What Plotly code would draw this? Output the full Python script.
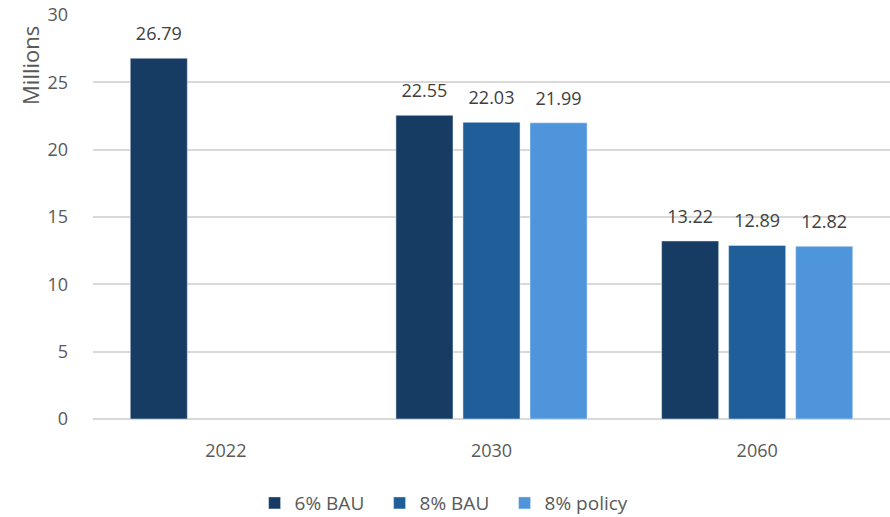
import plotly.graph_objects as go

years = ["2022", "2030", "2060"]
series_names = ["6% BAU", "8% BAU", "8% policy"]
bau6 = [26.79, 22.55, 13.22]
bau8 = [None, 22.03, 12.89]
policy8 = [None, 21.99, 12.82]
colors = ["#173c63", "#1f5e99", "#4f95db"]
y_ticks = [0, 5, 10, 15, 20, 25, 30]

fig = go.Figure()
for k, (name, vals, c) in enumerate(zip(series_names, [bau6, bau8, policy8], colors)):
    fig.add_trace(go.Bar(
        x=years, y=vals, name=name, marker_color=c, offsetgroup=str(k),
    ))
for k, (name, vals) in enumerate(zip(series_names, [bau6, bau8, policy8])):
    fig.add_trace(go.Scatter(
        x=years, y=vals, mode="markers+text", offsetgroup=str(k), showlegend=False,
        marker=dict(size=20, opacity=0),
        text=[f"{v:.2f}" if v is not None else "" for v in vals],
        textposition="top center", cliponaxis=False, hoverinfo="skip",
        textfont=dict(size=18, color="#404040"),
    ))

fig.update_layout(
    width=890, height=517,
    margin=dict(l=93, r=0, t=15, b=98),
    paper_bgcolor="white", plot_bgcolor="white",
    font=dict(family="Open Sans, Lato, sans-serif", color="#595959", size=17),
    barmode="group", bargap=0.243, bargroupgap=0.149, scattermode="group",
    xaxis=dict(type="category", showgrid=False, showline=False, ticks="", automargin=False,
               tickfont=dict(size=18, color="#595959"), ticklabelstandoff=19),
    yaxis=dict(range=[0, 30], tickvals=y_ticks, showgrid=True, gridcolor="#d9d9d9", automargin=False,
               gridwidth=1.5, zeroline=True, zerolinecolor="#d9d9d9", zerolinewidth=1.5,
               tickfont=dict(size=18, color="#595959"), ticklabelstandoff=24),
    legend=dict(orientation="h", x=0.438, xanchor="center", xref="paper",
                yref="container", y=0.027, yanchor="middle",
                entrywidth=80, entrywidthmode="pixels",
                font=dict(size=19, color="#595959"), traceorder="normal"),
    showlegend=True,
    annotations=[dict(text="Millions", textangle=-90, xref="paper", yref="paper",
                      x=-0.079, y=0.874, xanchor="center", yanchor="middle", showarrow=False,
                      font=dict(size=22, color="#595959"))],
)
fig.write_html("out.html", config={"displayModeBar": False},
               post_script="document.body.style.margin='0';document.body.style.overflow='hidden';")
